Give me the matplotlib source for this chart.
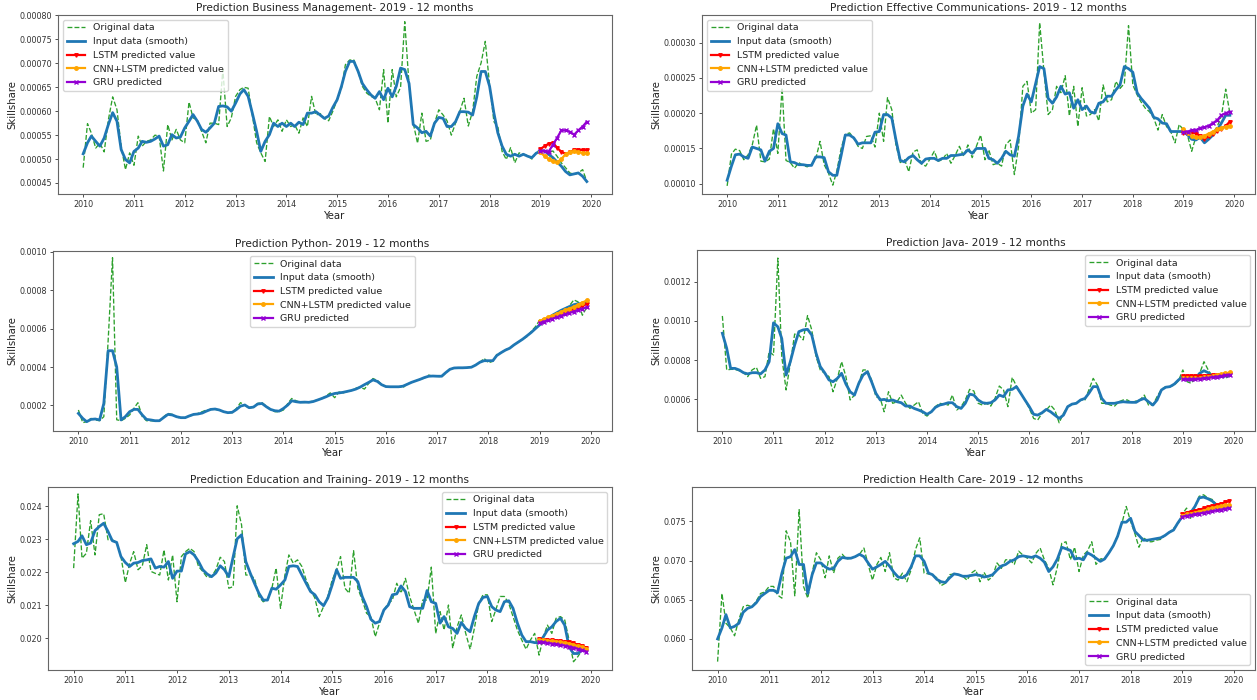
import numpy as np
import pandas as pd
import matplotlib
matplotlib.use("Agg")
import matplotlib.pyplot as plt
import matplotlib.dates as mdates
from matplotlib.ticker import MultipleLocator

# monthly data, Jan 2010 - Dec 2019; predictions cover 2019
dates = pd.date_range("2010-01-01", periods=120, freq="MS")
pred_dates = dates[-12:]

# Business Management (x 1e-5)
ba_orig = np.array([
    48.2, 57.4, 55.4, 52.3, 53.3, 51.5, 58.2, 63.0, 60.3, 52.7, 47.8, 51.3,
    48.7, 54.8, 52.7, 53.7, 54.0, 55.0, 54.8, 47.5, 57.2, 54.0, 56.2, 54.0,
    53.4, 61.9, 58.6, 58.2, 55.8, 53.4, 57.5, 57.5, 57.2, 68.7, 56.8, 58.6,
    63.1, 64.5, 65.0, 64.8, 59.2, 53.4, 51.3, 49.5, 58.9, 56.8, 58.2, 55.8,
    58.2, 56.8, 57.2, 55.4, 58.6, 56.8, 63.1, 59.2, 59.5, 58.5, 58.0, 60.0,
    62.4, 64.8, 69.7, 70.7, 70.7, 68.3, 65.2, 63.8, 63.1, 62.7, 60.3, 68.7,
    57.5, 68.7, 63.0, 65.0, 78.7, 65.5, 57.5, 53.3, 59.6, 53.7, 54.0, 57.5,
    60.3, 59.2, 58.0, 55.0, 57.5, 60.0, 62.7, 56.9, 60.0, 67.3, 70.1, 74.6,
    65.5, 57.8, 56.8, 51.6, 49.9, 52.4, 49.2, 51.3, 51.0, 50.7, 50.0, 51.3,
    52.0, 51.7, 51.3, 51.7, 50.6, 49.2, 48.2, 47.1, 46.8, 47.1, 47.8, 45.3]) * 1e-5
ba_smooth = np.array([
    51.1, 53.4, 54.8, 53.7, 52.7, 54.4, 57.2, 59.7, 57.9, 52.0, 49.9, 49.2,
    51.6, 52.3, 53.7, 53.5, 53.7, 54.2, 54.8, 52.7, 53.0, 55.1, 54.4, 54.6,
    56.5, 57.9, 59.3, 57.9, 56.2, 55.6, 56.5, 57.5, 61.0, 61.1, 60.9, 60.0,
    61.7, 63.6, 64.5, 63.1, 59.6, 55.8, 51.6, 53.7, 55.1, 57.5, 56.8, 57.5,
    56.8, 57.5, 56.8, 57.7, 57.2, 59.6, 59.6, 59.9, 59.2, 58.5, 59.0, 60.8,
    62.4, 65.2, 68.3, 70.4, 70.4, 68.3, 65.8, 64.5, 63.4, 62.7, 64.1, 62.4,
    64.8, 63.0, 65.2, 69.0, 68.7, 65.8, 57.2, 56.5, 55.5, 55.8, 54.8, 57.5,
    58.7, 58.5, 56.8, 56.8, 57.8, 59.9, 59.9, 59.8, 59.2, 63.0, 68.3, 68.3,
    65.2, 59.6, 55.5, 52.7, 51.0, 50.6, 51.0, 50.6, 51.0, 50.6, 50.3, 51.2,
    51.7, 51.7, 51.0, 50.3, 49.4, 48.5, 47.4, 46.7, 46.9, 47.1, 46.4, 45.3]) * 1e-5
ba_lstm = np.array([52.1, 52.7, 53.2, 53.4, 52.4, 51.5, 51.1, 51.4, 51.9, 51.9, 51.9, 51.8]) * 1e-5
ba_cnn = np.array([51.4, 50.6, 50.0, 49.5, 49.3, 50.0, 51.0, 51.5, 51.6, 51.5, 51.3, 51.2]) * 1e-5
ba_gru = np.array([51.7, 51.7, 51.5, 53.0, 54.4, 56.0, 56.0, 55.7, 55.1, 56.0, 56.8, 57.8]) * 1e-5

# Effective Communications (x 1e-5)
ec_orig = np.array([
    9.7, 14.2, 14.9, 14.7, 13.4, 14.1, 15.5, 18.3, 13.2, 13.1, 13.5, 17.8,
    14.3, 23.6, 13.3, 13.0, 12.2, 13.0, 12.6, 12.4, 12.8, 13.5, 16.0, 12.7,
    11.5, 9.8, 11.8, 15.0, 17.0, 17.2, 16.5, 15.3, 15.0, 16.7, 16.8, 15.2,
    20.0, 16.0, 22.2, 20.5, 15.5, 13.0, 13.5, 11.7, 14.5, 14.8, 12.8, 12.5,
    13.5, 14.6, 13.2, 13.4, 14.3, 12.9, 14.0, 15.3, 13.9, 15.5, 13.7, 15.3,
    16.9, 13.4, 14.8, 12.7, 12.9, 12.5, 15.5, 16.2, 11.3, 15.3, 23.8, 24.5,
    20.0, 20.5, 32.8, 25.9, 19.8, 20.5, 23.8, 22.9, 25.3, 19.6, 23.8, 18.1,
    23.6, 19.6, 19.8, 20.5, 18.9, 24.0, 21.6, 21.9, 24.5, 23.5, 24.2, 32.4,
    24.0, 22.6, 21.6, 20.7, 20.2, 19.3, 17.6, 19.8, 18.1, 17.4, 15.8, 18.4,
    17.6, 16.7, 14.6, 16.7, 16.5, 15.8, 16.5, 17.2, 18.1, 19.6, 23.4, 20.0]) * 1e-5
ec_smooth = np.array([
    10.5, 12.5, 14.1, 14.2, 13.8, 13.6, 15.2, 15.0, 14.8, 13.2, 14.6, 15.0,
    18.5, 17.1, 16.9, 13.1, 13.0, 12.7, 12.7, 12.6, 12.6, 13.8, 13.8, 13.7,
    11.7, 11.2, 11.2, 14.0, 16.9, 16.9, 16.5, 15.6, 15.8, 15.8, 15.8, 17.3,
    17.4, 19.8, 19.8, 19.3, 16.2, 13.3, 13.1, 13.7, 14.0, 13.4, 12.9, 13.5,
    13.6, 13.6, 13.3, 13.6, 13.6, 14.0, 14.0, 14.1, 14.2, 14.8, 14.3, 15.0,
    15.0, 15.0, 13.6, 13.4, 12.9, 13.6, 14.6, 14.1, 13.9, 16.7, 21.0, 22.7,
    21.6, 24.2, 26.6, 26.3, 22.1, 21.4, 22.3, 23.8, 22.7, 22.9, 20.7, 21.9,
    20.5, 21.0, 20.2, 20.0, 21.4, 21.6, 22.4, 22.4, 23.3, 24.0, 26.6, 26.3,
    25.8, 22.9, 22.1, 21.4, 20.7, 19.4, 19.2, 18.6, 18.5, 17.4, 17.4, 17.4,
    17.4, 16.9, 16.3, 16.2, 16.6, 15.8, 16.3, 16.9, 17.6, 18.6, 19.7, 19.7]) * 1e-5
ec_lstm = np.array([17.2, 17.2, 17.3, 17.1, 16.8, 16.4, 16.7, 17.1, 17.5, 17.8, 18.2, 18.8]) * 1e-5
ec_cnn = np.array([17.7, 17.2, 16.8, 16.6, 16.6, 16.8, 17.1, 17.4, 17.7, 17.9, 18.1, 18.2]) * 1e-5
ec_gru = np.array([17.3, 17.4, 17.6, 17.6, 17.9, 18.0, 18.2, 18.6, 19.0, 19.7, 20.0, 20.2]) * 1e-5

# Python (x 1e-4)
py_orig = np.array([
    1.76, 1.10, 1.15, 1.32, 1.24, 1.20, 1.41, 5.40, 9.70, 1.25, 1.20, 1.32,
    1.50, 1.85, 2.14, 1.41, 1.20, 1.20, 1.18, 1.18, 1.41, 1.58, 1.53, 1.41,
    1.32, 1.36, 1.45, 1.50, 1.58, 1.67, 1.76, 1.79, 1.79, 1.76, 1.67, 1.62,
    1.62, 1.85, 2.14, 2.02, 1.85, 1.91, 2.10, 2.14, 1.96, 1.79, 1.67, 1.67,
    1.76, 2.10, 2.36, 2.24, 2.16, 2.15, 2.18, 2.22, 2.28, 2.35, 2.50, 2.65,
    2.40, 2.70, 2.65, 2.72, 2.78, 2.90, 2.95, 2.85, 3.15, 3.40, 3.30, 3.10,
    2.98, 2.97, 2.95, 2.97, 2.92, 3.12, 3.20, 3.28, 3.36, 3.42, 3.58, 3.52,
    3.52, 3.48, 3.68, 3.90, 3.95, 3.95, 3.96, 3.97, 4.00, 4.10, 4.25, 4.45,
    4.22, 4.30, 4.65, 4.75, 4.90, 4.98, 5.15, 5.30, 5.45, 5.58, 5.85, 6.10,
    6.45, 6.30, 6.50, 6.70, 6.80, 6.95, 7.05, 7.20, 7.50, 7.40, 6.70, 7.10]) * 1e-4
py_smooth = np.array([
    1.58, 1.32, 1.15, 1.27, 1.29, 1.24, 2.10, 4.85, 4.85, 4.00, 1.24, 1.41,
    1.67, 1.79, 1.79, 1.50, 1.27, 1.24, 1.20, 1.20, 1.37, 1.53, 1.50, 1.41,
    1.36, 1.36, 1.45, 1.53, 1.55, 1.60, 1.70, 1.79, 1.81, 1.76, 1.67, 1.62,
    1.64, 1.79, 1.96, 2.02, 1.88, 1.91, 2.07, 2.10, 1.93, 1.79, 1.72, 1.70,
    1.84, 2.02, 2.24, 2.19, 2.16, 2.17, 2.16, 2.20, 2.28, 2.36, 2.45, 2.55,
    2.62, 2.65, 2.68, 2.73, 2.78, 2.85, 2.95, 3.08, 3.20, 3.33, 3.25, 3.08,
    2.98, 2.97, 2.97, 2.97, 3.00, 3.10, 3.20, 3.28, 3.36, 3.45, 3.52, 3.53,
    3.52, 3.52, 3.70, 3.88, 3.95, 3.96, 3.96, 3.97, 3.99, 4.10, 4.25, 4.33,
    4.33, 4.33, 4.60, 4.75, 4.88, 4.98, 5.15, 5.30, 5.45, 5.62, 5.80, 6.00,
    6.20, 6.40, 6.55, 6.70, 6.82, 6.95, 7.05, 7.15, 7.25, 7.30, 7.30, 7.35]) * 1e-4
py_lstm = np.array([6.35, 6.43, 6.51, 6.60, 6.69, 6.77, 6.85, 6.94, 7.02, 7.10, 7.19, 7.28]) * 1e-4
py_cnn = np.array([6.40, 6.50, 6.59, 6.68, 6.78, 6.87, 6.96, 7.05, 7.15, 7.25, 7.36, 7.47]) * 1e-4
py_gru = np.array([6.30, 6.37, 6.44, 6.52, 6.59, 6.67, 6.74, 6.82, 6.89, 6.97, 7.04, 7.12]) * 1e-4

# Java (x 1e-4)
ja_orig = np.array([
    10.25, 7.50, 7.53, 7.53, 7.46, 7.36, 7.16, 7.50, 7.63, 7.07, 7.16, 8.43,
    8.26, 13.20, 8.18, 6.48, 7.84, 9.33, 9.28, 9.03, 10.27, 9.54, 8.18, 7.50,
    7.33, 7.16, 6.39, 7.07, 7.92, 7.16, 5.97, 6.22, 6.82, 7.50, 7.50, 6.99,
    6.14, 6.05, 5.37, 6.39, 5.80, 5.88, 6.22, 5.80, 5.54, 5.71, 5.88, 5.29,
    5.15, 5.37, 5.63, 5.80, 5.76, 5.71, 6.22, 5.46, 5.63, 5.97, 6.51, 6.43,
    5.80, 5.71, 5.80, 5.66, 6.05, 6.68, 6.48, 5.63, 7.12, 6.68, 6.31, 5.97,
    5.54, 5.03, 4.95, 5.29, 5.46, 5.71, 5.46, 4.81, 5.29, 5.63, 5.76, 5.80,
    5.97, 5.97, 6.48, 7.07, 6.73, 5.80, 5.80, 5.71, 5.66, 5.88, 5.97, 5.97,
    5.83, 5.92, 5.97, 6.22, 5.71, 5.71, 6.14, 6.51, 6.65, 6.65, 6.73, 6.95,
    7.50, 6.90, 6.82, 7.07, 7.33, 7.92, 7.50, 7.16, 7.07, 7.16, 7.07, 7.20]) * 1e-4
ja_smooth = np.array([
    9.37, 8.60, 7.58, 7.58, 7.50, 7.36, 7.30, 7.36, 7.36, 7.30, 7.50, 7.92,
    9.90, 9.70, 9.10, 7.24, 7.92, 8.77, 9.45, 9.54, 9.57, 9.28, 8.35, 7.67,
    7.36, 6.99, 6.90, 7.07, 7.33, 6.78, 6.39, 6.22, 6.82, 7.24, 7.41, 6.90,
    6.31, 5.97, 6.00, 5.93, 5.97, 5.88, 5.83, 5.66, 5.66, 5.54, 5.46, 5.37,
    5.24, 5.37, 5.59, 5.71, 5.76, 5.83, 5.83, 5.63, 5.54, 5.80, 6.27, 6.22,
    5.97, 5.83, 5.80, 5.83, 5.97, 6.22, 6.14, 6.48, 6.51, 6.65, 6.31, 5.97,
    5.63, 5.24, 5.20, 5.32, 5.49, 5.37, 5.20, 5.03, 5.20, 5.63, 5.76, 5.80,
    5.97, 6.05, 6.31, 6.65, 6.65, 6.05, 5.80, 5.80, 5.80, 5.85, 5.88, 5.86,
    5.85, 5.85, 5.97, 6.05, 5.88, 5.71, 5.97, 6.48, 6.62, 6.65, 6.78, 6.99,
    7.16, 7.07, 6.99, 7.07, 7.33, 7.46, 7.36, 7.16, 7.16, 7.16, 7.19, 7.24]) * 1e-4
ja_lstm = np.array([7.18, 7.20, 7.20, 7.19, 7.19, 7.20, 7.21, 7.22, 7.24, 7.26, 7.28, 7.30]) * 1e-4
ja_cnn = np.array([7.10, 7.08, 7.07, 7.07, 7.09, 7.12, 7.15, 7.19, 7.23, 7.28, 7.32, 7.37]) * 1e-4
ja_gru = np.array([7.03, 7.02, 7.03, 7.04, 7.05, 7.07, 7.10, 7.13, 7.16, 7.19, 7.22, 7.25]) * 1e-4

# Education and Training (x 1e-3)
ed_orig = np.array([
    22.13, 24.38, 22.43, 22.58, 23.57, 22.53, 23.75, 23.78, 22.99, 22.99, 22.91, 22.48,
    21.69, 22.28, 22.63, 22.08, 22.20, 22.84, 22.03, 21.97, 21.92, 22.68, 21.77, 22.53,
    21.11, 22.48, 22.63, 22.73, 22.63, 22.18, 22.03, 21.85, 21.87, 22.08, 22.46, 22.33,
    21.52, 21.57, 24.02, 23.44, 21.92, 21.92, 21.82, 21.27, 21.11, 21.16, 21.52, 22.13,
    20.91, 21.92, 22.53, 22.28, 22.38, 22.18, 21.77, 21.47, 21.22, 20.66, 20.96, 21.27,
    21.77, 22.08, 22.48, 21.52, 21.37, 22.66, 21.52, 21.16, 20.76, 20.66, 20.05, 20.46,
    20.86, 21.06, 21.16, 21.67, 21.37, 21.82, 21.27, 20.86, 20.46, 21.16, 21.16, 22.16,
    20.15, 20.81, 20.25, 21.01, 19.70, 20.35, 20.71, 20.15, 19.67, 20.30, 21.06, 21.32,
    21.32, 20.51, 20.86, 21.27, 21.27, 21.06, 20.66, 20.25, 19.95, 19.67, 19.95, 20.15,
    19.49, 20.05, 20.40, 20.15, 20.61, 20.66, 20.56, 19.95, 19.29, 19.44, 19.65, 19.60]) * 1e-3
ed_smooth = np.array([
    22.87, 22.94, 23.11, 22.84, 22.89, 23.27, 23.39, 23.49, 23.24, 22.96, 22.91, 22.48,
    22.30, 22.18, 22.28, 22.30, 22.36, 22.38, 22.41, 22.13, 22.18, 22.16, 22.33, 21.82,
    22.04, 22.04, 22.56, 22.63, 22.53, 22.33, 22.08, 21.95, 21.87, 21.98, 22.20, 22.08,
    21.87, 22.48, 23.02, 23.14, 22.33, 21.98, 21.67, 21.37, 21.16, 21.16, 21.52, 21.49,
    21.62, 21.77, 22.18, 22.20, 22.18, 21.92, 21.67, 21.42, 21.32, 21.11, 20.99, 21.22,
    21.62, 22.08, 21.82, 21.85, 21.85, 21.85, 21.72, 21.27, 20.96, 20.58, 20.46, 20.51,
    20.86, 21.01, 21.32, 21.35, 21.59, 21.42, 20.96, 20.91, 20.91, 20.91, 21.45, 21.11,
    21.06, 20.46, 20.66, 20.35, 20.30, 20.15, 20.48, 20.30, 20.20, 20.66, 21.06, 21.24,
    21.27, 20.96, 20.86, 20.81, 21.11, 21.14, 20.91, 20.46, 20.10, 19.90, 19.90, 19.87,
    19.87, 20.05, 20.25, 20.35, 20.51, 20.61, 20.40, 19.74, 19.54, 19.54, 19.65, 19.70]) * 1e-3
ed_lstm = np.array([19.97, 19.96, 19.95, 19.94, 19.93, 19.92, 19.90, 19.88, 19.85, 19.81, 19.77, 19.72]) * 1e-3
ed_cnn = np.array([19.95, 19.94, 19.93, 19.92, 19.90, 19.89, 19.87, 19.84, 19.81, 19.77, 19.73, 19.69]) * 1e-3
ed_gru = np.array([19.90, 19.88, 19.86, 19.84, 19.82, 19.80, 19.78, 19.75, 19.72, 19.68, 19.64, 19.60]) * 1e-3

# Health Care (x 1e-3)
he_orig = np.array([
    57.1, 65.8, 62.0, 61.4, 60.4, 62.5, 64.1, 64.3, 64.1, 64.8, 65.8, 66.0,
    66.7, 66.7, 65.6, 65.2, 73.8, 72.4, 65.5, 76.5, 66.7, 65.2, 68.4, 71.0,
    70.1, 67.8, 70.6, 68.4, 70.3, 70.8, 70.2, 70.3, 70.5, 70.8, 71.6, 69.5,
    67.5, 69.5, 70.4, 68.6, 71.0, 67.8, 67.5, 68.4, 67.3, 68.8, 71.4, 72.9,
    68.4, 68.3, 68.2, 67.8, 66.8, 67.1, 68.2, 68.3, 68.2, 68.0, 67.5, 68.4,
    68.8, 67.3, 68.5, 67.5, 68.0, 69.7, 69.0, 70.1, 70.1, 69.5, 71.2, 70.7,
    70.3, 69.7, 70.9, 71.6, 70.1, 69.0, 66.9, 69.2, 72.2, 72.4, 70.1, 71.7,
    68.6, 70.7, 71.2, 72.4, 69.5, 70.2, 70.3, 71.0, 71.9, 73.2, 74.8, 76.9,
    75.0, 73.4, 71.7, 73.0, 72.4, 72.4, 72.6, 72.7, 73.2, 73.6, 74.1, 74.6,
    75.9, 76.7, 75.4, 76.9, 78.2, 78.4, 78.0, 77.8, 77.1, 76.8, 76.7, 77.0]) * 1e-3
he_smooth = np.array([
    60.0, 61.4, 63.1, 61.4, 61.6, 62.0, 63.4, 63.9, 64.1, 64.6, 65.4, 65.8,
    66.2, 66.2, 65.9, 68.4, 70.3, 70.5, 71.4, 69.5, 69.5, 65.8, 68.2, 69.7,
    69.7, 69.2, 68.9, 69.0, 69.9, 70.4, 70.3, 70.3, 70.5, 70.8, 70.5, 69.7,
    68.9, 69.2, 69.5, 69.9, 69.3, 68.5, 67.9, 67.8, 68.2, 69.2, 70.6, 70.6,
    69.9, 68.4, 68.2, 67.6, 67.3, 67.2, 67.8, 68.3, 68.2, 68.0, 68.0, 68.1,
    68.2, 68.1, 67.9, 68.0, 68.2, 68.8, 69.3, 69.5, 69.9, 70.1, 70.5, 70.6,
    70.5, 70.4, 70.6, 70.3, 69.8, 68.6, 69.2, 70.2, 71.7, 71.5, 71.3, 70.2,
    70.3, 70.1, 71.0, 70.7, 70.3, 69.9, 70.2, 71.0, 71.9, 73.1, 74.9, 74.9,
    75.4, 73.7, 73.2, 72.6, 72.6, 72.7, 72.8, 72.9, 73.2, 73.6, 73.9, 74.8,
    75.6, 76.1, 76.1, 76.9, 78.0, 78.1, 77.9, 77.6, 77.1, 76.9, 76.8, 76.9]) * 1e-3
he_lstm = np.array([75.9, 76.05, 76.2, 76.35, 76.5, 76.65, 76.8, 76.95, 77.1, 77.25, 77.42, 77.6]) * 1e-3
he_cnn = np.array([75.75, 75.88, 76.0, 76.13, 76.26, 76.39, 76.52, 76.65, 76.78, 76.91, 77.03, 77.15]) * 1e-3
he_gru = np.array([75.6, 75.7, 75.8, 75.9, 76.0, 76.1, 76.2, 76.3, 76.4, 76.5, 76.6, 76.7]) * 1e-3

titles = ["Prediction Business Management- 2019 - 12 months",
          "Prediction Effective Communications- 2019 - 12 months",
          "Prediction Python- 2019 - 12 months",
          "Prediction Java- 2019 - 12 months",
          "Prediction Education and Training- 2019 - 12 months",
          "Prediction Health Care- 2019 - 12 months"]
series = [(ba_orig, ba_smooth, ba_lstm, ba_cnn, ba_gru),
          (ec_orig, ec_smooth, ec_lstm, ec_cnn, ec_gru),
          (py_orig, py_smooth, py_lstm, py_cnn, py_gru),
          (ja_orig, ja_smooth, ja_lstm, ja_cnn, ja_gru),
          (ed_orig, ed_smooth, ed_lstm, ed_cnn, ed_gru),
          (he_orig, he_smooth, he_lstm, he_cnn, he_gru)]

# layout (pixels: left, top, right, bottom), y ranges, tick steps, legend spots
W, H = 1257, 700
boxes = [(58, 15, 612, 194), (702, 15, 1255, 194),
         (53, 251, 612, 431), (697, 250, 1255, 431),
         (48, 487, 612, 670), (692, 487, 1255, 670)]
ylims = [(0.000427, 0.000801), (0.0000855, 0.000339),
         (0.0000664, 0.001005), (0.000439, 0.001361),
         (0.01904, 0.02459), (0.05603, 0.07939)]
ysteps = [0.00005, 0.00005, 0.0002, 0.0002, 0.001, 0.005]
legend_locs = ["upper left", "upper left", "upper center",
               "upper right", "upper right", "lower right"]

plt.rcParams["text.color"] = "#222222"
plt.rcParams["axes.labelcolor"] = "#222222"
plt.rcParams["xtick.color"] = "#333333"
plt.rcParams["ytick.color"] = "#333333"

fig = plt.figure(figsize=(12.57, 7), dpi=100)

for i in range(6):
    l, t, r, b = boxes[i]
    ax = fig.add_axes([l / W, 1 - b / H, (r - l) / W, (b - t) / H])
    orig, smooth, lstm, cnn, gru = series[i]

    ax.plot(dates, orig, "--", color="tab:green", lw=0.95, label="Original data")
    ax.plot(dates, smooth, color="#1f77b4", lw=2.0, label="Input data (smooth)")
    ax.plot(pred_dates, lstm, color="red", lw=1.6, marker="v", ms=2.5,
            label="LSTM predicted value")
    ax.plot(pred_dates, cnn, color="orange", lw=1.6, marker="o", ms=2.5,
            label="CNN+LSTM predicted value")
    ax.plot(pred_dates, gru, color="darkviolet", lw=1.6, marker="x", ms=2.5,
            label="GRU predicted")

    ax.set_ylim(*ylims[i])
    ax.yaxis.set_major_locator(MultipleLocator(ysteps[i]))
    ax.xaxis.set_major_locator(mdates.YearLocator())
    ax.xaxis.set_major_formatter(mdates.DateFormatter("%Y"))
    ax.tick_params(labelsize=5.8, length=2.5, width=0.6, pad=2)
    for s in ax.spines.values():
        s.set_color("#666666")
        s.set_linewidth(0.8)

    ax.set_title(titles[i], fontsize=7.6, pad=3)
    ax.set_xlabel("Year", fontsize=7.3, labelpad=1.5)
    ax.set_ylabel("Skillshare", fontsize=7.3, labelpad=1)
    ax.legend(loc=legend_locs[i], fontsize=6.8)

fig.savefig("out.png", dpi=100)
